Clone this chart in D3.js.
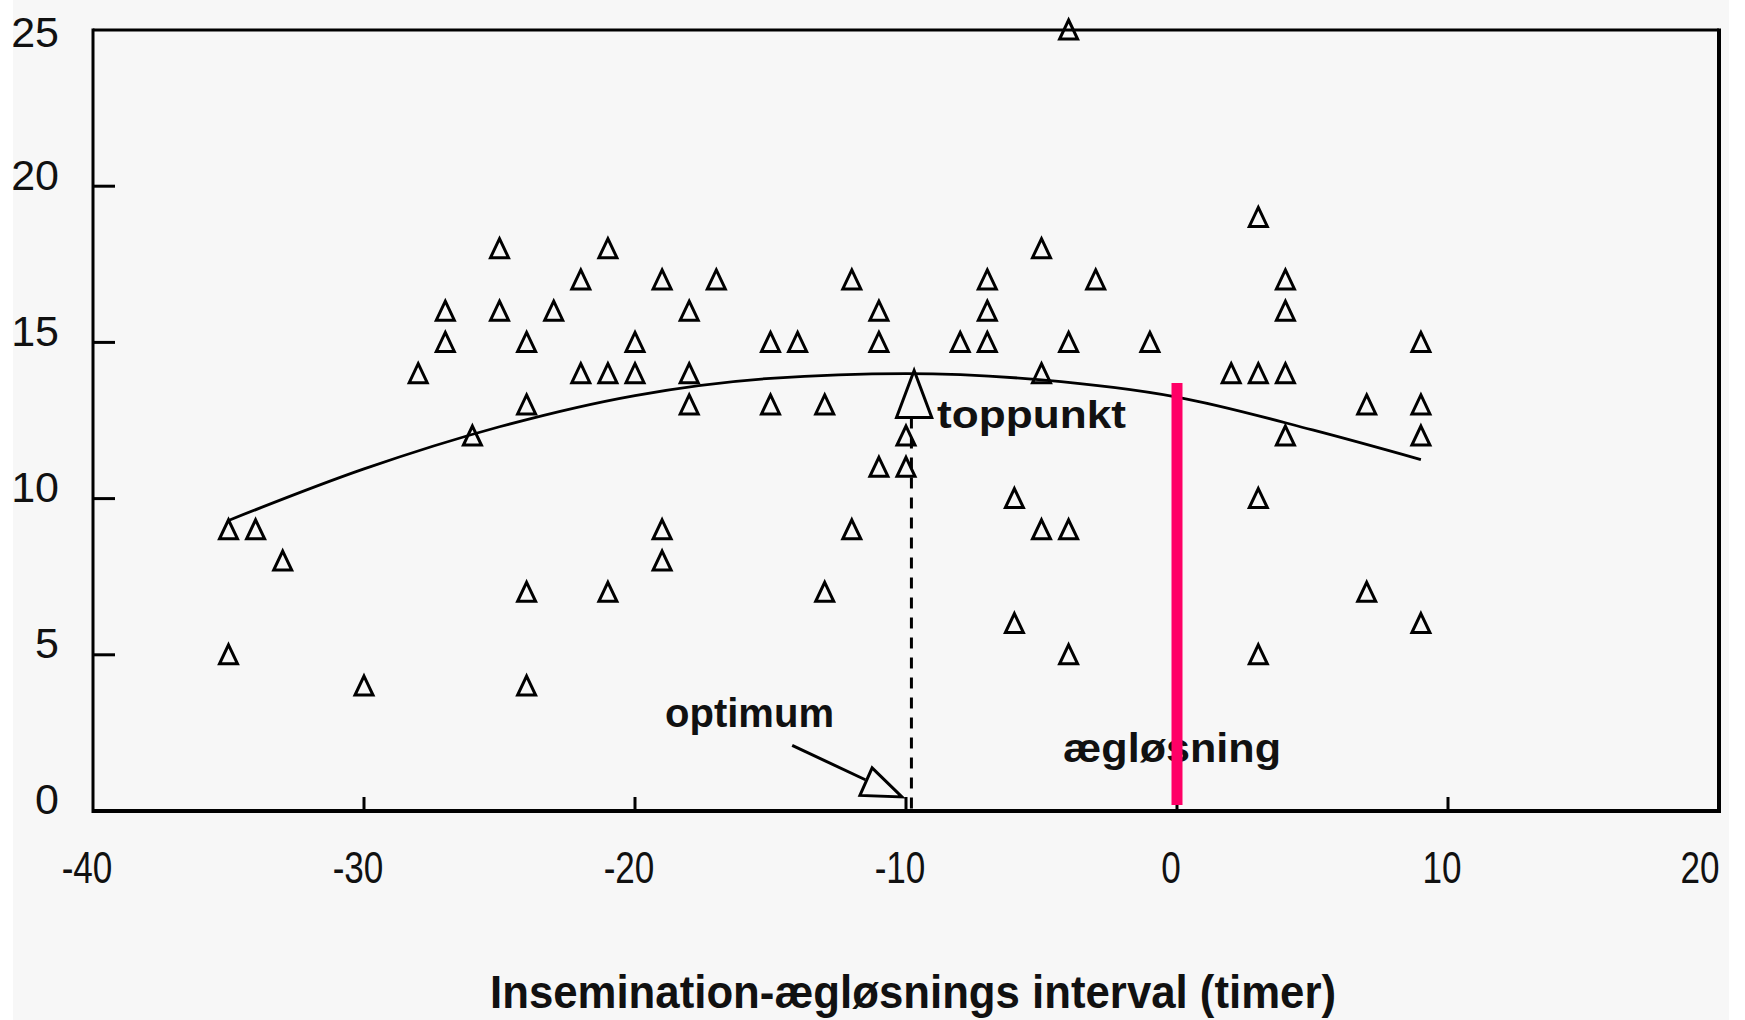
<!DOCTYPE html>
<html>
<head>
<meta charset="utf-8">
<script src="https://cdn.jsdelivr.net/npm/d3@7"></script>
<style>
  html, body { margin: 0; padding: 0; background: #ffffff; }
  svg { display: block; }
  text { font-family: "Liberation Sans", Arial, sans-serif; fill: #111; }
</style>
</head>
<body>
<div id="chart"></div>
<script>
// Observations: interval (hours) vs. value
const obsX = [-35, -35, -34, -33, -30, -28, -27, -27, -26, -25, -25, -24, -24, -24, -24, -23,
  -22, -22, -21, -21, -21, -20, -20, -19, -19, -19, -18, -18, -18, -17, -15, -15, -14, -13, -13,
  -12, -12, -11, -11, -11, -10, -10, -8, -7, -7, -7, -6, -6, -5, -5, -5, -4, -4, -4, -4, -3, -1,
  2, 3, 3, 3, 3, 4, 4, 4, 4, 7, 7, 9, 9, 9, 9];
const obsY = [9, 5, 9, 8, 4, 14, 16, 15, 12, 18, 16, 15, 13, 7, 4, 16,
  17, 14, 18, 14, 7, 15, 14, 17, 9, 8, 16, 14, 13, 17, 15, 13, 15, 13, 7,
  17, 9, 16, 15, 11, 12, 11, 15, 17, 16, 15, 10, 6, 18, 14, 9, 25, 15, 9, 5, 17, 15,
  14, 19, 14, 10, 5, 17, 16, 14, 12, 13, 7, 15, 13, 12, 6];

// Fitted curve
const fitX = [-35, -30, -25, -20, -15, -10, -5, 0, 5, 9];
const fitY = [9.3, 10.95, 12.3, 13.3, 13.85, 14.0, 13.8, 13.25, 12.2, 11.25];

// Axis ticks
const xTicks = [-40, -30, -20, -10, 0, 10, 20];
const yTicks = [0, 5, 10, 15, 20, 25];

// Annotations
const peakX = -9.8;          // toppunkt / optimum interval
const peakMarkY = [14.1, 12.6];   // apex, base of big triangle
const ovulationX = 0;
const ovulationTop = 13.7;
const optimumArrow = [[-14.2, 2.1], [-11.5, 1.0]];
const optimumMark = [[-11.25, 1.38], [-11.7, 0.5], [-10.15, 0.45]];

const W = 1745, H = 1020;
const bg = '#f7f7f7';

const svg = d3.select('#chart').append('svg')
  .attr('width', W).attr('height', H);

svg.append('rect')
  .attr('x', 13).attr('y', 0)
  .attr('width', 1716).attr('height', H)
  .attr('fill', bg);

const x = d3.scaleLinear().domain([-40, 20]).range([93, 1719]);
const y = d3.scaleLinear().domain([0, 25]).range([811, 30]);

// Frame
const frame = svg.append('g').attr('stroke', '#000').attr('fill', 'none');
frame.append('line').attr('x1', x(-40)).attr('x2', x(20)).attr('y1', y(25)).attr('y2', y(25)).attr('stroke-width', 3);
frame.append('line').attr('x1', x(20)).attr('x2', x(20)).attr('y1', y(25) - 1.5).attr('y2', y(0)).attr('stroke-width', 4);
frame.append('line').attr('x1', x(-40)).attr('x2', x(-40)).attr('y1', y(25) - 1.5).attr('y2', y(0) + 2).attr('stroke-width', 3);
frame.append('line').attr('x1', x(-40)).attr('x2', x(20) + 2).attr('y1', y(0)).attr('y2', y(0)).attr('stroke-width', 4);

// Inner ticks
frame.selectAll('.yt').data(yTicks.filter(d => d > 0 && d < 25)).enter().append('line')
  .attr('x1', x(-40)).attr('x2', x(-40) + 22)
  .attr('y1', d => y(d)).attr('y2', d => y(d))
  .attr('stroke-width', 3);
frame.selectAll('.xt').data(xTicks.filter(d => d > -40 && d < 20)).enter().append('line')
  .attr('x1', d => x(d)).attr('x2', d => x(d))
  .attr('y1', y(0)).attr('y2', y(0) - 14)
  .attr('stroke-width', 3);

// Tick labels
svg.selectAll('.ylab').data(yTicks).enter().append('text')
  .attr('x', 59).attr('y', d => Math.max(y(d) - 12, 32))
  .attr('dy', '0.36em')
  .attr('text-anchor', 'end')
  .style('font-size', '43px')
  .text(d => d);

svg.selectAll('.xlab').data(xTicks).enter().append('text')
  .attr('transform', d => `translate(${Math.min(x(d) - 6, 1700)},${883}) scale(0.78,1)`)
  .attr('text-anchor', 'middle')
  .style('font-size', '45px')
  .text(d => d);

// Axis title
svg.append('text')
  .attr('x', 490).attr('y', 1008)
  .attr('textLength', 846).attr('lengthAdjust', 'spacingAndGlyphs')
  .style('font-size', '46px').style('font-weight', 'bold')
  .text('Insemination-ægløsnings interval (timer)');

// Annotation texts
svg.append('text')
  .attr('x', 937).attr('y', 428)
  .attr('textLength', 189).attr('lengthAdjust', 'spacingAndGlyphs')
  .style('font-size', '39px').style('font-weight', 'bold')
  .text('toppunkt');

svg.append('text')
  .attr('x', 665).attr('y', 727)
  .attr('textLength', 169).attr('lengthAdjust', 'spacingAndGlyphs')
  .style('font-size', '40px').style('font-weight', 'bold')
  .text('optimum');

svg.append('text')
  .attr('x', 1063).attr('y', 762)
  .attr('textLength', 218).attr('lengthAdjust', 'spacingAndGlyphs')
  .style('font-size', '41px').style('font-weight', 'bold')
  .text('ægløsning');

// Fitted curve
const fit = fitX.map((d, i) => [d, fitY[i]]);
svg.append('path')
  .datum(fit)
  .attr('fill', 'none')
  .attr('stroke', '#000')
  .attr('stroke-width', 2.8)
  .attr('d', d3.line().x(d => x(d[0])).y(d => y(d[1])).curve(d3.curveMonotoneX));

// Dashed drop line from the peak
svg.append('line')
  .attr('x1', x(peakX)).attr('x2', x(peakX))
  .attr('y1', y(peakMarkY[1])).attr('y2', y(0))
  .attr('stroke', '#000').attr('stroke-width', 3)
  .attr('stroke-dasharray', '11,9');

// Observation triangles
const tri = 'M0,-10 L9,9 L-9,9 Z';
svg.append('g')
  .selectAll('path')
  .data(obsX.map((d, i) => [d, obsY[i]]))
  .enter()
  .append('path')
  .attr('d', tri)
  .attr('transform', d => `translate(${x(d[0])},${y(d[1])})`)
  .attr('fill', 'none')
  .attr('stroke', '#000')
  .attr('stroke-width', 3)
  .attr('stroke-linejoin', 'miter');

// Big peak triangle
const halfW = 0.65;
svg.append('path')
  .attr('d', `M${x(peakX + 0.1)},${y(peakMarkY[0])} L${x(peakX + 0.1 + halfW)},${y(peakMarkY[1])} L${x(peakX + 0.1 - halfW)},${y(peakMarkY[1])} Z`)
  .attr('fill', 'none').attr('stroke', '#000').attr('stroke-width', 3);

// Optimum arrow + marker
svg.append('line')
  .attr('x1', x(optimumArrow[0][0])).attr('y1', y(optimumArrow[0][1]))
  .attr('x2', x(optimumArrow[1][0])).attr('y2', y(optimumArrow[1][1]))
  .attr('stroke', '#000').attr('stroke-width', 3);
svg.append('path')
  .attr('d', 'M' + optimumMark.map(p => `${x(p[0])},${y(p[1])}`).join('L') + 'Z')
  .attr('fill', 'none').attr('stroke', '#000').attr('stroke-width', 3);

// Ovulation line
svg.append('line')
  .attr('x1', x(ovulationX)).attr('x2', x(ovulationX))
  .attr('y1', y(ovulationTop)).attr('y2', y(0) - 6)
  .attr('stroke', '#ff0066').attr('stroke-width', 11);
</script>
</body>
</html>
